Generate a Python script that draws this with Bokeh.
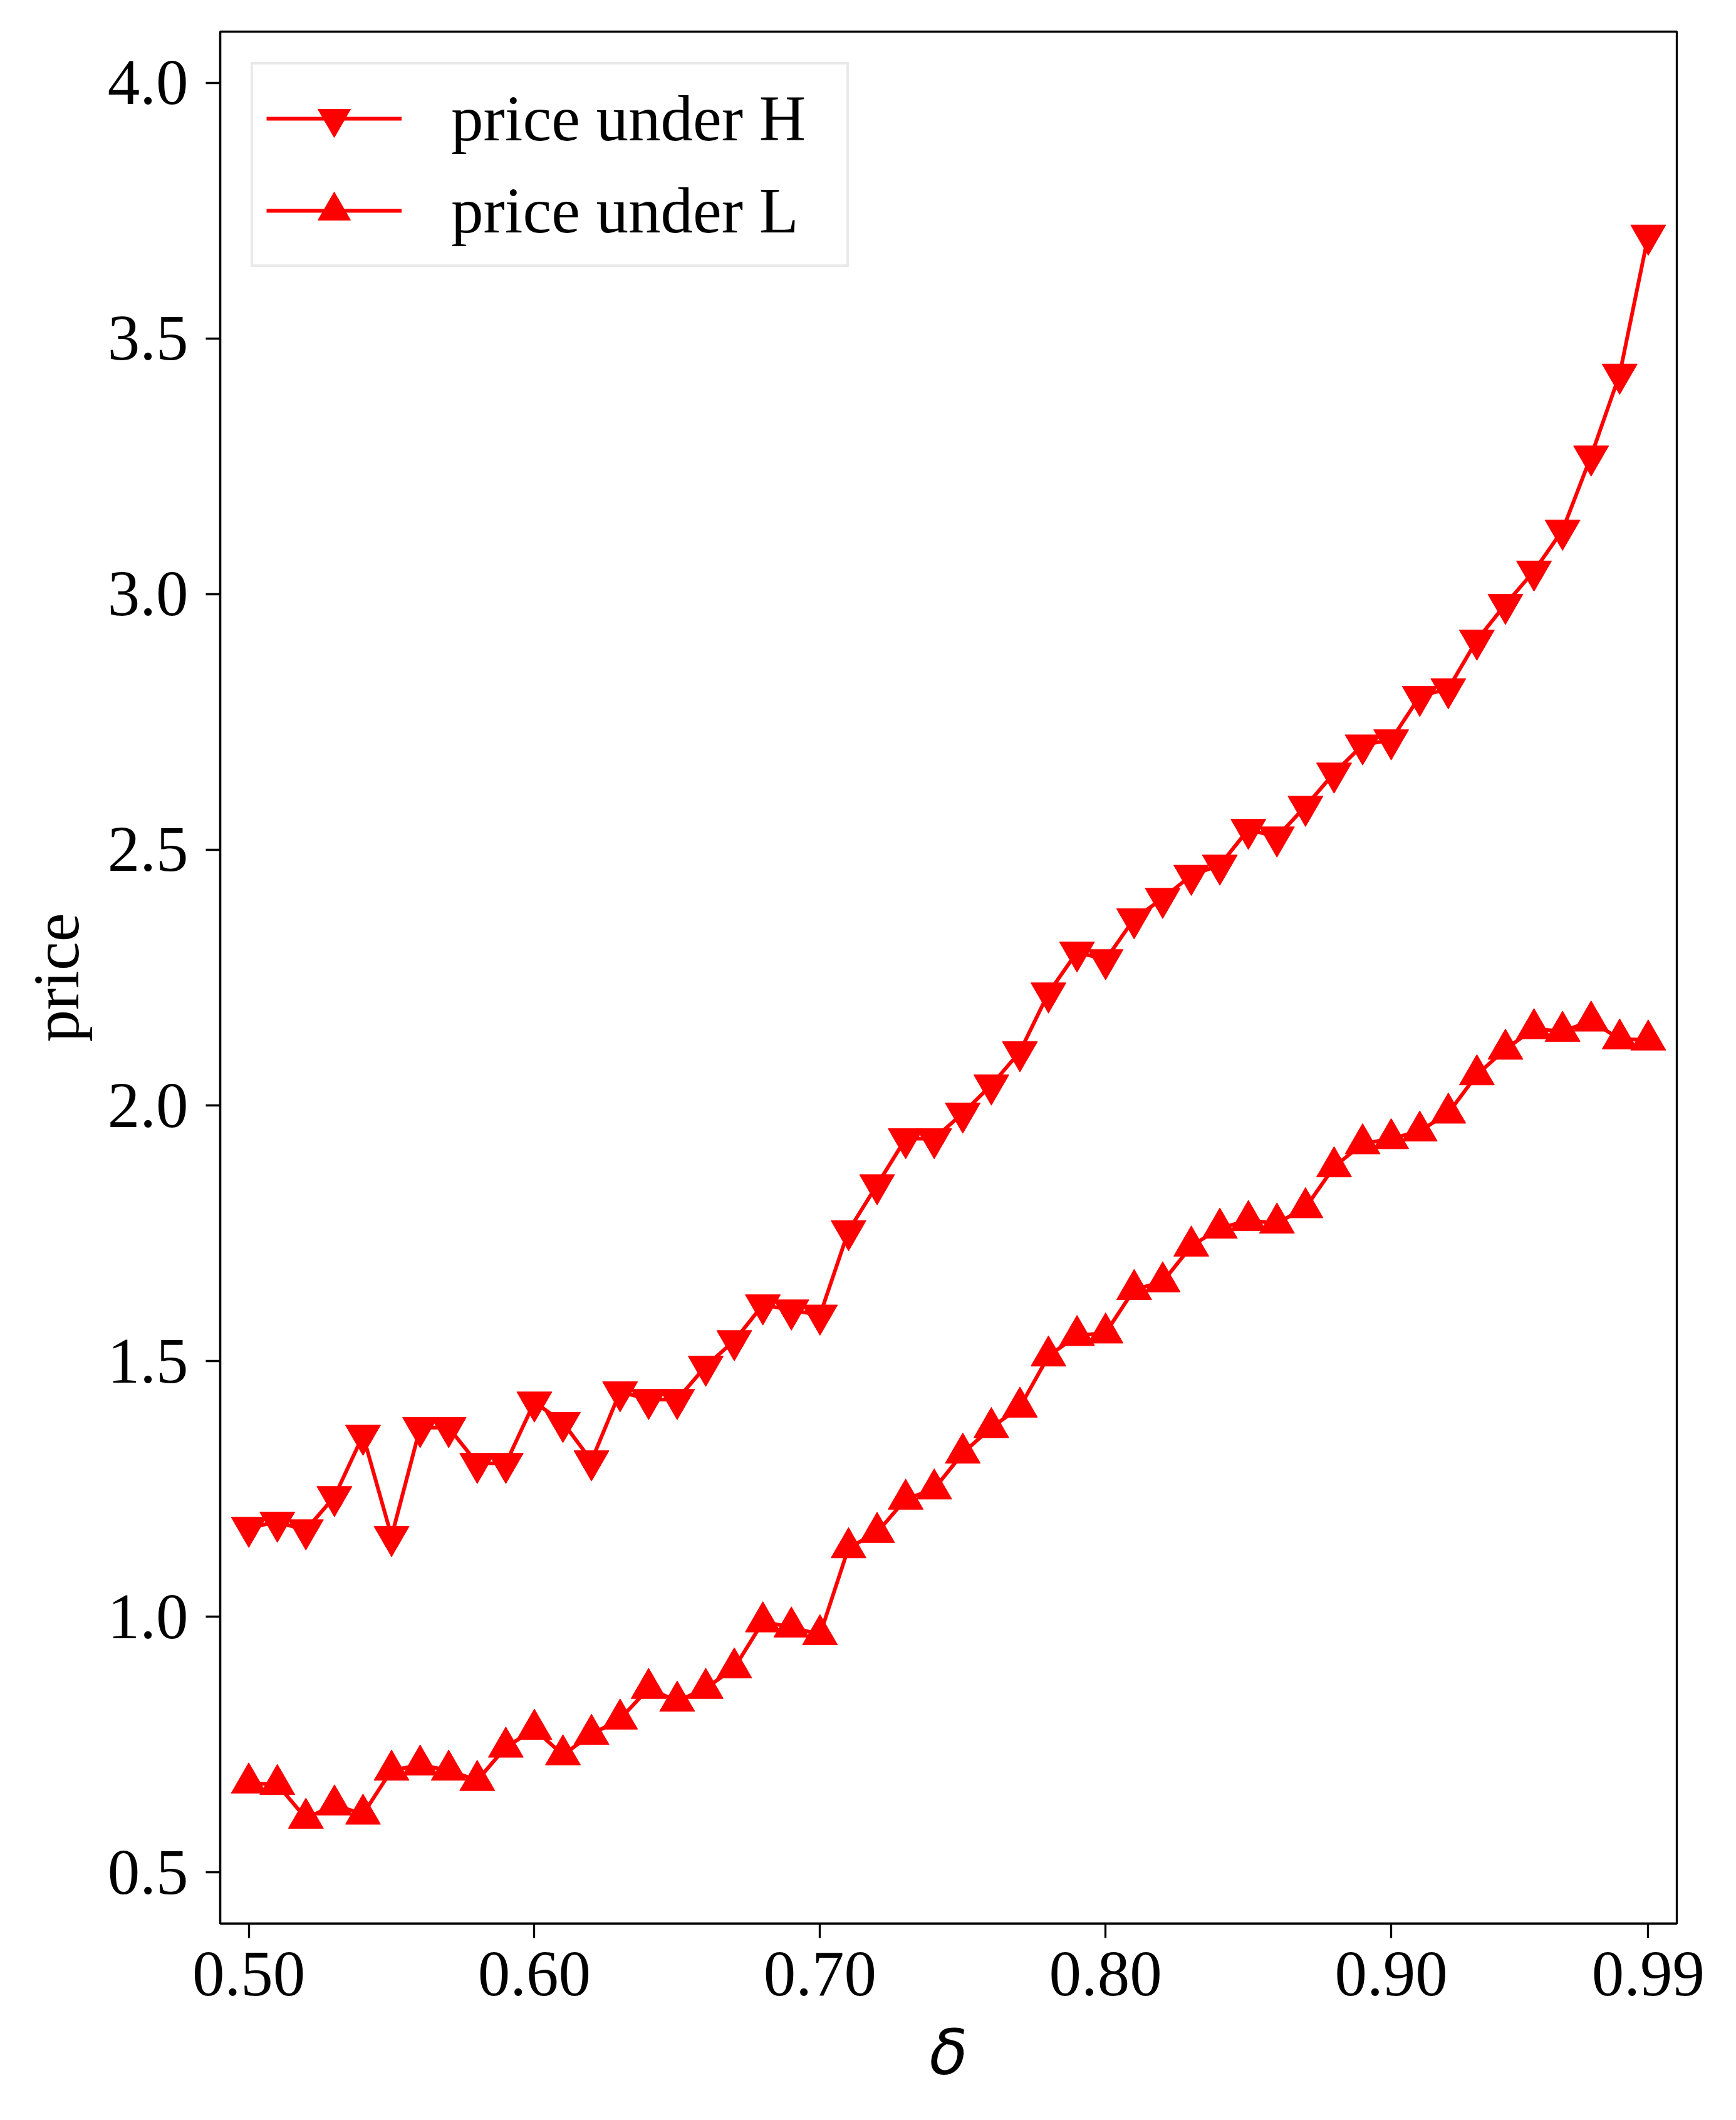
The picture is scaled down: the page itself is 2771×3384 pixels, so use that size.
from bokeh.plotting import figure
from bokeh.models import FixedTicker, Range1d
from bokeh.embed import file_html
from bokeh.resources import INLINE

# ---------------- data ----------------
delta = [0.50, 0.51, 0.52, 0.53, 0.54, 0.55, 0.56, 0.57, 0.58, 0.59,
         0.60, 0.61, 0.62, 0.63, 0.64, 0.65, 0.66, 0.67, 0.68, 0.69,
         0.70, 0.71, 0.72, 0.73, 0.74, 0.75, 0.76, 0.77, 0.78, 0.79,
         0.80, 0.81, 0.82, 0.83, 0.84, 0.85, 0.86, 0.87, 0.88, 0.89,
         0.90, 0.91, 0.92, 0.93, 0.94, 0.95, 0.96, 0.97, 0.98, 0.99]

price_H = [1.175, 1.185, 1.170, 1.235, 1.355, 1.157, 1.370, 1.370, 1.300, 1.300,
           1.420, 1.380, 1.305, 1.440, 1.425, 1.425, 1.490, 1.540, 1.610, 1.600,
           1.590, 1.755, 1.845, 1.935, 1.935, 1.985, 2.040, 2.105, 2.220, 2.300,
           2.285, 2.365, 2.405, 2.450, 2.470, 2.540, 2.525, 2.585, 2.650, 2.705,
           2.715, 2.800, 2.815, 2.910, 2.980, 3.045, 3.125, 3.270, 3.430, 3.702]

price_L = [0.675, 0.672, 0.606, 0.632, 0.614, 0.700, 0.710, 0.700, 0.680, 0.745,
           0.780, 0.730, 0.770, 0.800, 0.860, 0.835, 0.860, 0.900, 0.990, 0.980,
           0.965, 1.135, 1.165, 1.230, 1.250, 1.320, 1.370, 1.410, 1.510, 1.550,
           1.555, 1.640, 1.655, 1.725, 1.760, 1.775, 1.770, 1.800, 1.880, 1.925,
           1.935, 1.950, 1.985, 2.060, 2.110, 2.150, 2.145, 2.165, 2.130, 2.128]

x_ticks = [0.50, 0.60, 0.70, 0.80, 0.90, 0.99]
x_tick_labels = ["0.50", "0.60", "0.70", "0.80", "0.90", "0.99"]
y_ticks = [0.5, 1.0, 1.5, 2.0, 2.5, 3.0, 3.5, 4.0]
y_tick_labels = ["0.5", "1.0", "1.5", "2.0", "2.5", "3.0", "3.5", "4.0"]

label_H = "price under H"
label_L = "price under L"
x_label = "δ"
y_label = "price"

# ---------------- figure ----------------
SERIF = "Liberation Serif"
FS = "103px"
RED = "#ff0000"
LW = 3.3

p = figure(width=2763, height=3376,
           x_range=Range1d(0.49, 1.0), y_range=Range1d(0.4, 4.1),
           output_backend="svg", toolbar_location=None,
           min_border_left=351, min_border_right=87,
           min_border_top=50, min_border_bottom=306)

p.background_fill_color = "white"
p.border_fill_color = "white"
p.xgrid.visible = False
p.ygrid.visible = False
p.outline_line_color = "black"
p.outline_line_width = LW
p.outline_line_alpha = 1.0

# series
p.line(delta, price_H, line_color=RED, line_width=6, legend_label=label_H)
p.scatter(delta, price_H, marker="inverted_triangle", size=56,
          fill_color=RED, line_color=RED, legend_label=label_H)
p.line(delta, price_L, line_color=RED, line_width=6, legend_label=label_L)
p.scatter(delta, price_L, marker="triangle", size=56,
          fill_color=RED, line_color=RED, legend_label=label_L)

# axes
for ax in (p.xaxis[0], p.yaxis[0]):
    ax.axis_line_width = LW
    ax.axis_line_color = "black"
    ax.major_tick_line_width = LW
    ax.major_tick_line_color = "black"
    ax.major_tick_out = 23
    ax.major_tick_in = 0
    ax.minor_tick_line_color = None
    ax.major_label_text_font = SERIF
    ax.major_label_text_font_size = FS
    ax.major_label_text_color = "black"

p.xaxis.ticker = FixedTicker(ticks=x_ticks)
p.xaxis.major_label_overrides = dict(zip(x_ticks, x_tick_labels))
p.xaxis.major_label_standoff = 23
p.xaxis.axis_label = x_label
p.xaxis.axis_label_text_font = "DejaVu Sans"
p.xaxis.axis_label_text_font_style = "italic"
p.xaxis.axis_label_text_font_size = "100px"
p.xaxis.axis_label_text_color = "black"
p.xaxis.axis_label_standoff = 30

p.yaxis.ticker = FixedTicker(ticks=y_ticks)
p.yaxis.major_label_overrides = dict(zip(y_ticks, y_tick_labels))
p.yaxis.major_label_standoff = 28
p.yaxis.axis_label = y_label
p.yaxis.axis_label_text_font = SERIF
p.yaxis.axis_label_text_font_style = "normal"
p.yaxis.axis_label_text_font_size = FS
p.yaxis.axis_label_text_color = "black"
p.yaxis.axis_label_standoff = 22

# legend
lg = p.legend[0]
lg.location = "top_left"
lg.margin = 49
lg.padding = 21
lg.spacing = 17
lg.glyph_width = 216
lg.glyph_height = 130
lg.label_standoff = 79
lg.label_width = 610
lg.label_text_font = SERIF
lg.label_text_font_size = FS
lg.label_text_color = "black"
lg.border_line_color = "#d4d4d4"
lg.border_line_width = 4
lg.background_fill_color = "white"
lg.background_fill_alpha = 1.0

open("out.html", "w").write(file_html(p, INLINE))
